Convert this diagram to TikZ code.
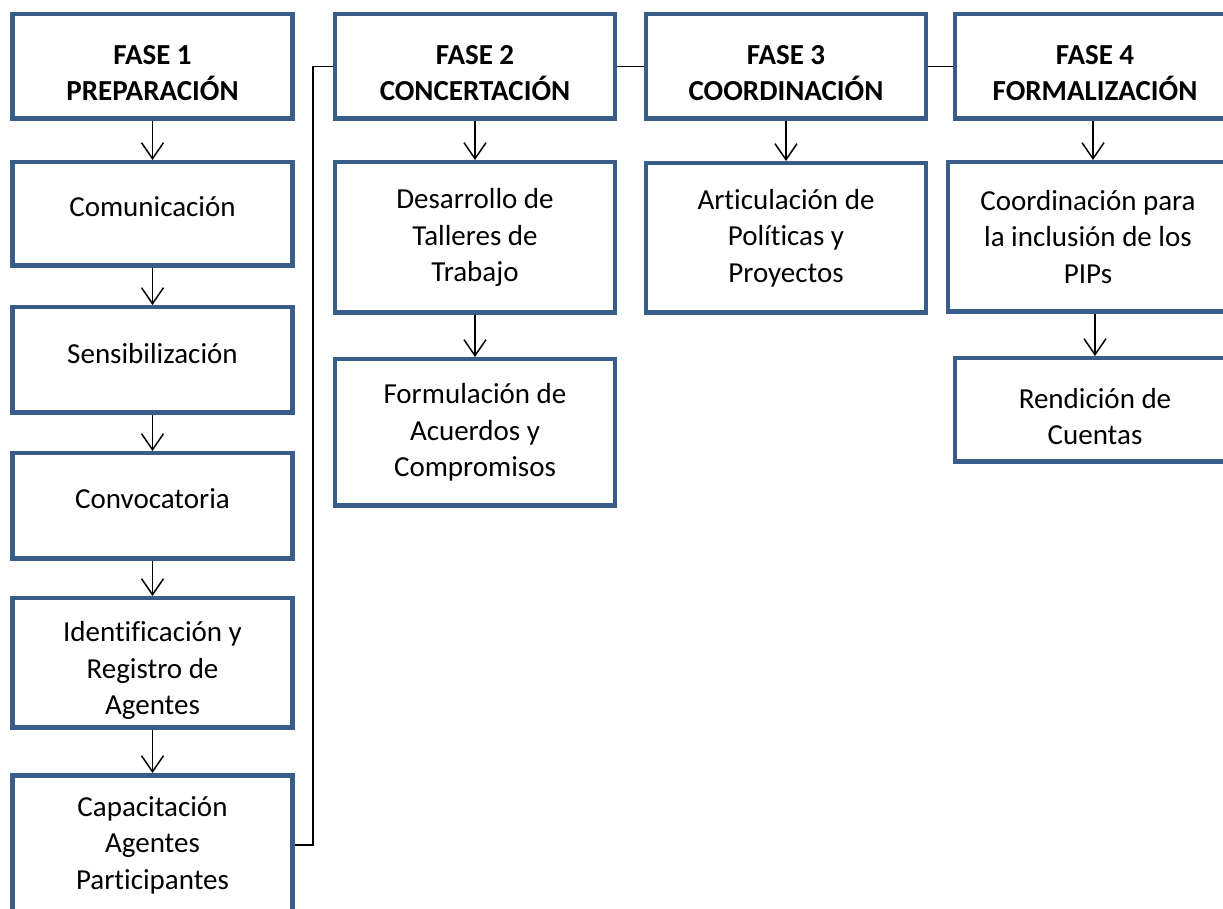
\documentclass[tikz,border=0pt]{standalone}
\usepackage{fontspec}
\setmainfont{Carlito}[Ligatures=NoCommon]
\usetikzlibrary{arrows.meta,positioning}
\definecolor{azulborde}{RGB}{56,93,138}

\begin{document}
\begin{tikzpicture}[x=0.5pt,y=-0.5pt,
    caja/.style={draw=azulborde,line width=2.25pt,fill=white,minimum width=140pt,
      align=center,inner sep=2pt,font=\fontsize{14.5}{18.25}\selectfont},
    fase/.style={caja,minimum height=52.25pt,font=\bfseries\fontsize{14.5}{18.25}\selectfont,bajar=34.6pt},
    bajar/.style={execute at begin node={\rule{0pt}{#1}}},
    subir/.style={execute at end node={\rule[-#1]{0pt}{#1}}},
    flecha/.style={line width=0.75pt,-{Straight Barb[length=8pt,width=11pt]}},
    linea/.style={line width=0.75pt}]
    \useasboundingbox (0,0) rectangle (1223,909);
    \clip (0,0) rectangle (1223,909);
    % fases
    \node[fase] (f1) at (152.5,66.5) {FASE 1\\PREPARACIÓN};
    \node[fase] (f2) at (475,66.5) {FASE 2\\CONCERTACIÓN};
    \node[fase] (f3) at (786,66.5) {FASE 3\\COORDINACIÓN};
    \node[fase] (f4) at (1095,66.5) {FASE 4\\FORMALIZACIÓN};
    % fase 1
    \node[caja,minimum height=51.75pt,subir=7pt] (com) at (152.5,214) {Comunicación};
    \node[caja,minimum height=52.75pt,subir=7pt] (sen) at (152.5,360) {Sensibilización};
    \node[caja,minimum height=52.75pt,subir=7pt] (con) at (152.5,506) {Convocatoria};
    \node[caja,minimum height=64.75pt,bajar=54.1pt] (ide) at (152.5,663) {Identificación y\\Registro de\\Agentes};
    \node[caja,minimum height=69.75pt] (cap) at (152.5,845) {Capacitación\\Agentes\\Participantes};
    % fase 2
    \node[caja,minimum height=75.25pt] (des) at (475,237.5) {Desarrollo de\\Talleres de\\Trabajo};
    \node[caja,minimum height=73.25pt] (for) at (475,432.5) {Formulación de\\Acuerdos y\\Compromisos};
    % fase 3
    \node[caja,minimum height=74.75pt] (art) at (786,238) {Articulación de\\Políticas y\\Proyectos};
    % fase 4
    \node[caja,minimum height=74.75pt] (coo) at (1088,237) {Coordinación para\\la inclusión de los\\PIPs};
    \node[caja,minimum height=51.75pt,bajar=34.9pt] (ren) at (1095,410) {Rendición de\\Cuentas};
    \path[flecha]
    (f1) edge (com)
    (com) edge (sen)
    (sen) edge (con)
    (con) edge (ide)
    (ide) edge (cap)
    (f2) edge (des)
    (des) edge (for)
    (f3) edge (art)
    ([xshift=-1pt]f4.south) edge ([xshift=-1pt]f4.south |- coo.north)
    (ren.north |- coo.south) edge (ren.north)
    ;
    \draw[linea] (cap.east) -- ++(18,0) |- (f2.west);
    \draw[linea] (f2) -- (f3);
    \draw[linea] (f3) -- (f4);
\end{tikzpicture}
\end{document}
